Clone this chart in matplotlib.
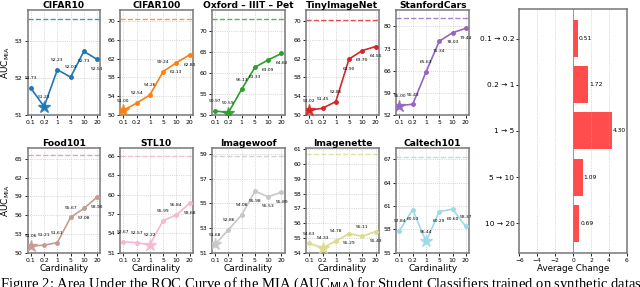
import numpy as np
import matplotlib
matplotlib.use("Agg")
import matplotlib.pyplot as plt

cardinality = ["0.1", "0.2", "1", "5", "10", "20"]

datasets = ["CIFAR10", "CIFAR100", "Oxford – IIIT – Pet", "TinyImageNet", "StanfordCars",
            "Food101", "STL10", "Imagewoof", "Imagenette", "Caltech101"]

cifar10 = [51.73, 51.23, 52.23, 52.03, 52.73, 52.51]
cifar100 = [51.00, 52.54, 54.26, 59.24, 61.13, 62.80]
oxford = [50.97, 50.59, 56.13, 61.33, 63.09, 64.60]
tiny = [51.02, 51.45, 52.86, 61.90, 63.70, 64.55]
cars = [55.00, 55.43, 65.63, 75.34, 78.03, 79.44]
food = [51.06, 51.21, 51.61, 55.67, 57.08, 58.90]
stl10 = [52.67, 52.57, 52.22, 55.99, 56.84, 58.68]
woof = [51.68, 52.86, 54.06, 55.98, 55.53, 55.89]
nette = [54.63, 54.33, 54.78, 55.29, 55.11, 55.43]
caltech = [57.84, 60.53, 56.44, 60.29, 60.60, 58.37]

series = [cifar10, cifar100, oxford, tiny, cars, food, stl10, woof, nette, caltech]

# dashed reference level per dataset
reference = [53.6, 70.4, 72.8, 70.2, 82.7, 65.7, 66.0, 58.8, 60.65, 67.3]

yticks = [[51, 52, 53], [50, 54, 58, 62, 66, 70], [50, 55, 60, 65, 70],
          [50, 54, 58, 62, 66, 70], [52, 59, 66, 73, 80],
          [50, 53, 56, 59, 62, 65], [51, 54, 57, 60, 63, 66], [51, 53, 55, 57, 59],
          [54, 55, 56, 57, 58, 59, 60, 61], [55, 58, 61, 64, 67]]
ylims = [(51, 53.85), (50, 72.3), (50, 74.9), (50, 72.3), (52, 85.2),
         (50, 66.8), (51, 67.3), (51, 59.5), (54, 61.1), (55, 68.5)]

# which point labels sit under the marker
below = [[4, 5], [4, 5], [3, 4, 5], [3, 4, 5], [3, 4, 5],
         [4, 5], [5], [3, 4, 5], [3, 5], [1, 3, 4]]

colors = ["#1f77b4", "#ff7f0e", "#2ca02c", "#d62728", "#9467bd",
          "#c49c94", "#f7b6d2", "#c7c7c7", "#dbdb8d", "#9edae5"]

transitions = ["0.1 → 0.2", "0.2 → 1", "1 → 5", "5 → 10", "10 → 20"]
avg_change = [0.51, 1.72, 4.30, 1.09, 0.69]

plt.rcParams['font.family'] = ['DejaVu Sans']

fig = plt.figure(figsize=(6.4, 2.87), dpi=100)

lefts = [0.043, 0.1875, 0.331, 0.478, 0.619]
bottoms = [0.599, 0.1195]
w, h = 0.114, 0.366

x = np.arange(len(cardinality))
for k in range(10):
    row, col = divmod(k, 5)
    ax = fig.add_axes([lefts[col], bottoms[row], w, h])
    vals = series[k]
    c = colors[k]
    ax.plot(x, vals, color=c, lw=1.2, marker='o', ms=2.5, zorder=3)
    m = int(np.argmin(vals))
    ax.plot(x[m], vals[m], marker='*', ms=9, color=c, alpha=0.85, zorder=4, mec=c)
    ax.axhline(reference[k], color=c, ls='--', lw=1.0, alpha=0.8)
    for i, v in enumerate(vals):
        dy = -7 if i in below[k] else 7
        ax.annotate(f"{v:.2f}", (x[i], v), xytext=(0, dy), textcoords='offset points',
                    ha='center', va='center', fontsize=3.2)
    ax.set_xticks(x)
    ax.set_xticklabels(cardinality)
    ax.set_yticks(yticks[k])
    ax.set_ylim(*ylims[k])
    ax.set_xlim(-0.25, 5.25)
    ax.tick_params(labelsize=4.4, length=2, pad=1.5, width=0.6)
    ax.grid(True, ls=':', lw=0.5, color='#bbbbbb')
    for s in ax.spines.values():
        s.set_color('#777777')
        s.set_linewidth(1.1)
    ax.set_title(datasets[k], fontsize=6.6, fontweight='bold', pad=1)
    if col == 0:
        ax.set_ylabel(r"AUC$_{\mathrm{MIA}}$", fontsize=6.5, labelpad=2)
    if row == 1:
        ax.set_xlabel("Cardinality", fontsize=6.5, labelpad=1)

axr = fig.add_axes([0.8114, 0.1195, 0.168, 0.8485])
yb = np.arange(len(transitions))
axr.barh(yb, avg_change, height=0.8, color='red', alpha=0.7)
for i, v in enumerate(avg_change):
    axr.text(v + 0.1, yb[i], f"{v:.2f}", va='center', ha='left', fontsize=4.3)
axr.axvline(0, color='#888888', lw=0.6)
axr.set_yticks(yb)
axr.set_yticklabels(transitions)
axr.invert_yaxis()
axr.set_xlim(-6, 6)
axr.set_xticks([-6, -4, -2, 0, 2, 4, 6])
axr.grid(True, axis='x', ls=':', lw=0.5, color='#bbbbbb')
axr.tick_params(axis='y', labelsize=5.3, length=2, pad=1.5, width=0.6)
axr.tick_params(axis='x', labelsize=4.3, length=2, pad=1.5, width=0.6)
axr.set_xlabel("Average Change", fontsize=6.3, labelpad=1)
for s in axr.spines.values():
    s.set_color('#777777')
    s.set_linewidth(1.1)

fig.text(0.0, 1 - 276 / 287,
         "Figure 2: Area Under the ROC Curve of the MIA (AUC$_{\\mathrm{MIA}}$) for Student Classifiers trained on synthetic datasets of",
         family=['Liberation Serif', 'DejaVu Serif'], fontsize=10.5, va='top', ha='left')

fig.savefig("out.png", dpi=100)
